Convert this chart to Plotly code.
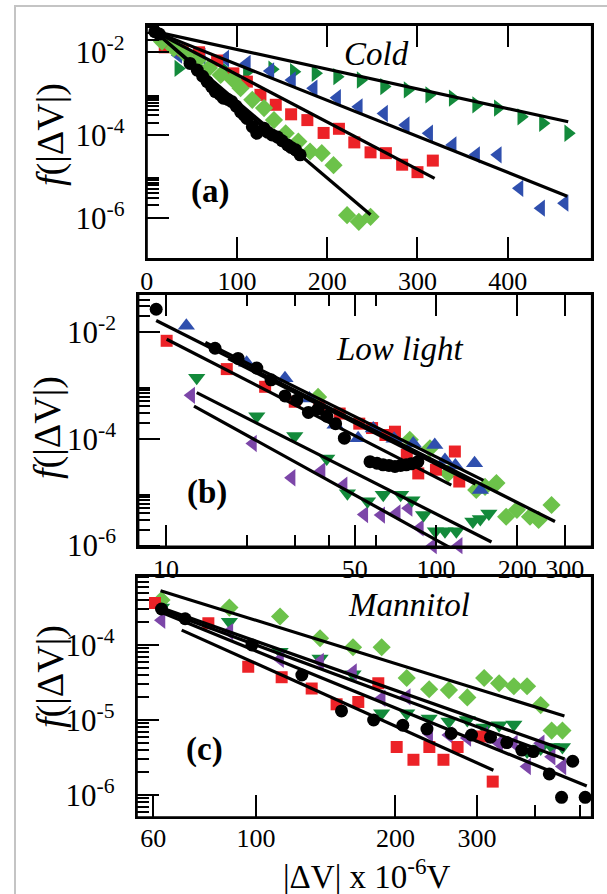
import math
import plotly.graph_objects as go

W, H = 607, 894

# ---------------- Panel (a): Cold ----------------
a_black_x = [9, 14, 48, 56, 62, 67, 72, 76, 81, 85, 90, 94, 99, 104, 108, 111, 117, 122, 130, 134, 139, 145, 150, 156, 160, 165, 170]
a_black_y = [3.16e-2, 2.75e-2, 5.37e-3, 3.72e-3, 2.63e-3, 1.95e-3, 1.45e-3, 1.12e-3, 9.55e-4, 7.76e-4, 7.24e-4, 6.46e-4, 5.01e-4, 3.63e-4, 3.02e-4, 2.51e-4, 1.58e-4, 1.10e-4, 1.45e-4, 1.17e-4, 1.0e-4, 8.91e-5, 7.24e-5, 5.75e-5, 5.01e-5, 4.37e-5, 3.31e-5]
a_red_x = [20, 40, 58, 78, 96, 111, 126, 143, 160, 178, 196, 213, 230, 248, 265, 283, 300, 317]
a_red_y = [1.32e-2, 1.12e-2, 1.0e-2, 6.31e-3, 3.09e-3, 1.95e-3, 9.33e-4, 5.37e-4, 3.16e-4, 2.29e-4, 1.12e-4, 1.41e-4, 6.61e-5, 3.80e-5, 3.63e-5, 1.91e-5, 1.26e-5, 2.40e-5]
a_blue_x = [35, 61, 87, 111, 137, 161, 185, 211, 235, 263, 287, 313, 339, 365, 389, 413, 437, 463]
a_blue_y = [8.51e-3, 7.94e-3, 7.08e-3, 5.37e-3, 3.55e-3, 2.14e-3, 1.35e-3, 7.94e-4, 4.79e-4, 3.31e-4, 1.74e-4, 1.10e-4, 5.75e-5, 3.31e-5, 3.31e-5, 5.13e-6, 1.70e-6, 2.24e-6]
a_dgreen_x = [35, 60, 86, 111, 139, 163, 187, 211, 237, 263, 289, 313, 339, 365, 389, 415, 439, 467]
a_dgreen_y = [4.07e-3, 3.89e-3, 3.80e-3, 3.39e-3, 3.89e-3, 3.39e-3, 3.09e-3, 2.57e-3, 2.14e-3, 1.48e-3, 1.23e-3, 9.33e-4, 7.76e-4, 5.37e-4, 4.47e-4, 2.75e-4, 1.91e-4, 1.10e-4]
a_lgreen_x = [17, 30, 43, 56, 69, 82, 95, 104, 117, 130, 141, 154, 168, 181, 194, 207, 222, 235, 248]
a_lgreen_y = [1.82e-2, 1.26e-2, 8.91e-3, 6.31e-3, 4.17e-3, 2.82e-3, 2.24e-3, 1.35e-3, 7.08e-4, 4.47e-4, 2.29e-4, 1.10e-4, 6.92e-5, 3.98e-5, 3.63e-5, 1.86e-5, 1.15e-6, 7.94e-7, 1.05e-6]
# fit line endpoints: ([x start, x end], [y start, y end])
a_fit_black = ([9.2, 170], [3.16e-2, 2.51e-5])
a_fit_lgreen = ([9.2, 248], [3.16e-2, 1.17e-6])
a_fit_red = ([9.2, 319], [3.16e-2, 8.91e-6])
a_fit_blue = ([9.2, 466], [3.16e-2, 3.31e-6])
a_fit_dgreen = ([9.2, 467], [3.16e-2, 2.09e-4])
a_xticks = [0, 100, 200, 300, 400]

# ---------------- Panel (b): Low light ----------------
b_black_x = [9.2, 15.2, 18.5, 21.7, 24.5, 27.6, 30.5, 33.7, 36.5, 39.4, 42.5, 45.8, 57, 60.5, 63.7, 67, 70.5, 74, 77.6, 81, 85.7]
b_black_y = [2.63e-2, 4.90e-3, 3.16e-3, 2.09e-3, 1.26e-3, 6.31e-4, 5.25e-4, 3.09e-4, 3.55e-4, 2.63e-4, 1.91e-4, 1.02e-4, 3.72e-5, 3.47e-5, 3.24e-5, 3.16e-5, 3.02e-5, 3.16e-5, 3.24e-5, 3.39e-5, 3.72e-5]
b_red_x = [10.06, 16.8, 23.3, 30, 37, 44, 52, 58, 65, 70.5, 78, 86, 100, 117.5, 122]
b_red_y = [6.76e-3, 2.0e-3, 9.33e-4, 4.90e-4, 3.98e-4, 2.95e-4, 1.91e-4, 1.58e-4, 1.17e-4, 1.35e-4, 5.01e-5, 2.24e-5, 2.63e-5, 5.75e-5, 1.58e-5]
b_blue_x = [11.9, 19.9, 27.6, 34, 42.3, 51.5, 58.6, 70, 82.4, 99, 108, 118, 139, 146]
b_blue_y = [1.29e-2, 2.63e-3, 1.35e-3, 5.62e-4, 1.82e-4, 1.02e-4, 1.55e-4, 1.0e-4, 8.13e-5, 7.59e-5, 3.98e-5, 3.16e-5, 3.47e-5, 1.10e-5]
b_lgreen_x = [36.6, 80, 95, 111, 141, 152, 167.5, 182, 199.5, 223, 240, 268]
b_lgreen_y = [6.03e-4, 9.55e-5, 6.61e-5, 2.24e-5, 1.10e-5, 1.26e-5, 1.48e-5, 3.47e-6, 4.68e-6, 3.47e-6, 3.02e-6, 5.75e-6]
b_dgreen_x = [13, 21.7, 30, 39.4, 47, 55.8, 63.8, 74, 81.5, 90, 99.5, 108, 119, 137, 146, 157]
b_dgreen_y = [1.38e-3, 2.63e-4, 1.12e-4, 4.27e-5, 9.55e-6, 6.76e-6, 8.91e-6, 8.91e-6, 7.08e-6, 3.72e-6, 1.86e-6, 1.86e-6, 1.86e-6, 2.82e-6, 3.16e-6, 3.98e-6]
b_purple_x = [12.4, 21, 29.2, 37.7, 45.5, 54.3, 62.7, 71.6, 79.2, 87.2, 97.5, 121.4]
b_purple_y = [6.46e-4, 8.13e-5, 1.86e-5, 2.51e-5, 1.35e-5, 3.80e-6, 3.72e-6, 4.07e-6, 5.01e-6, 2.14e-6, 1.0e-6, 1.0e-6]
b_fit_1 = ([9.2, 276], [1.62e-2, 2.82e-6])
b_fit_2 = ([10.06, 114], [7.24e-3, 1.35e-5])
b_fit_3 = ([14, 150], [6.31e-3, 1.66e-5])
b_fit_4 = ([17, 140], [3.16e-3, 1.41e-5])
b_fit_5 = ([13, 160.6], [7.24e-4, 1.17e-6])
b_fit_6 = ([12.7, 114], [4.07e-4, 8.91e-7])
b_xticks = [10, 50, 100, 200, 300]
b_xminor = [20, 30, 40, 60]

# ---------------- Panel (c): Mannitol ----------------
c_x = [62.5, 87.6, 112.7, 137.5, 162, 186.8, 211.6, 236.6, 261, 286, 311, 335, 360.5, 385, 412, 435, 459]
c_lgreen_y = [3.98e-4, 3.16e-4, 2.40e-4, 1.23e-4, 9.33e-5, 9.33e-5, 3.63e-5, 2.57e-5, 2.51e-5, 2.0e-5, 3.63e-5, 3.09e-5, 2.82e-5, 2.82e-5, 1.58e-5, 7.24e-6, 7.24e-6]
c_dgreen_y = [3.16e-4, 2.04e-4, 8.13e-5, 6.61e-5, 4.07e-5, 1.23e-5, 1.23e-5, 1.05e-5, 9.55e-6, 1.0e-5, 7.94e-6, 8.51e-6, 8.71e-6, 3.80e-6, 4.17e-6, 4.37e-6, 4.37e-6]
c_purple_y = [2.14e-4, 1.51e-4, 6.46e-5, 6.03e-5, 4.37e-5, 1.95e-5, 2.04e-5, 6.61e-6, 6.31e-6, 5.75e-6, 6.31e-6, 4.90e-6, 4.90e-6, 2.40e-6, 4.90e-6, 3.24e-6, 2.40e-6]
c_black_x = [62.5, 70.3, 98, 125.6, 153, 179.5, 207.5, 234, 264, 292, 321, 348, 375, 397, 430, 457, 483, 514]
c_black_y = [3.02e-4, 2.24e-4, 1.0e-4, 3.98e-5, 1.32e-5, 1.0e-5, 8.51e-6, 7.59e-6, 6.61e-6, 6.31e-6, 5.89e-6, 5.01e-6, 3.98e-6, 3.80e-6, 1.91e-6, 9.33e-7, 2.82e-6, 9.33e-7]
c_red_x = [60.5, 78.9, 96.2, 113.6, 131.9, 149.3, 166.3, 183.7, 201.3, 218.8, 236.8, 254, 272.5, 307, 324.5]
c_red_y = [3.63e-4, 1.95e-4, 5.13e-5, 3.72e-5, 2.63e-5, 1.62e-5, 1.74e-5, 3.09e-5, 4.37e-6, 2.95e-6, 4.37e-6, 2.95e-6, 4.37e-6, 6.03e-6, 1.51e-6]
c_fit_lgreen = ([62.2, 463.6], [5.30e-4, 1.13e-5])
c_fit_dgreen = ([62.2, 464], [3.16e-4, 3.98e-6])
c_fit_purple = ([62.2, 464], [2.95e-4, 3.02e-6])
c_fit_black = ([62.2, 518], [2.75e-4, 1.32e-6])
c_fit_red = ([69.1, 325.6], [1.58e-4, 2.14e-6])
c_xticks = [60, 100, 200, 300]
c_xminor = [400, 500]

y_ticks_ab = [1e-6, 1e-4, 1e-2]
y_ticks_c = [1e-6, 1e-5, 1e-4]

# ---------------- styling ----------------
FONT = "Liberation Serif, Times New Roman, Times, serif"
RED = "#ec2227"
BLUE = "#2f4fae"
DGREEN = "#138a3b"
LGREEN = "#6cc24a"
PURPLE = "#7c46a8"
BLACK = "#000000"

fig = go.Figure()


def px_x(x):
    return x / W


def px_y(y):
    return 1 - y / H


def add_pts(xs, ys, sym, color, size, ax):
    fig.add_trace(go.Scatter(
        x=xs, y=ys, mode="markers", xaxis=ax[0], yaxis=ax[1],
        marker=dict(symbol=sym, color=color, size=size, line=dict(width=0)),
        cliponaxis=False, showlegend=False, hoverinfo="skip"))


def add_fit(fit, ax):
    fig.add_trace(go.Scatter(
        x=fit[0], y=fit[1], mode="lines", xaxis=ax[0], yaxis=ax[1],
        line=dict(color="black", width=3.2), showlegend=False, hoverinfo="skip"))


A = ("x", "y")
B = ("x2", "y2")
C = ("x3", "y3")

TRI, SQ, DIA, CIR = 15, 12, 14, 13

# panel a
add_pts(a_dgreen_x, a_dgreen_y, "triangle-right", DGREEN, TRI, A)
add_pts(a_blue_x, a_blue_y, "triangle-left", BLUE, TRI, A)
add_pts(a_red_x, a_red_y, "square", RED, SQ, A)
add_pts(a_lgreen_x, a_lgreen_y, "diamond", LGREEN, DIA, A)
add_pts(a_black_x, a_black_y, "circle", BLACK, CIR, A)
for f in (a_fit_black, a_fit_lgreen, a_fit_red, a_fit_blue, a_fit_dgreen):
    add_fit(f, A)

# panel b
add_pts(b_purple_x, b_purple_y, "triangle-left", PURPLE, TRI, B)
add_pts(b_dgreen_x, b_dgreen_y, "triangle-down", DGREEN, TRI, B)
add_pts(b_lgreen_x, b_lgreen_y, "diamond", LGREEN, DIA, B)
add_pts(b_red_x, b_red_y, "square", RED, SQ, B)
add_pts(b_blue_x, b_blue_y, "triangle-up", BLUE, TRI, B)
add_pts(b_black_x, b_black_y, "circle", BLACK, CIR, B)
for f in (b_fit_1, b_fit_2, b_fit_3, b_fit_4, b_fit_5, b_fit_6):
    add_fit(f, B)

# panel c
add_pts(c_x, c_lgreen_y, "diamond", LGREEN, DIA, C)
add_pts(c_x, c_dgreen_y, "triangle-down", DGREEN, TRI, C)
add_pts(c_x, c_purple_y, "triangle-left", PURPLE, TRI, C)
add_pts(c_red_x, c_red_y, "square", RED, SQ, C)
add_pts(c_black_x, c_black_y, "circle", BLACK, CIR, C)
for f in (c_fit_lgreen, c_fit_dgreen, c_fit_purple, c_fit_black, c_fit_red):
    add_fit(f, C)


def sup(v):
    return "10<sup>%d</sup>" % round(math.log10(v))


axis_common = dict(showline=True, linecolor="black", linewidth=2, ticks="inside",
                   ticklen=22, tickwidth=2, tickcolor="black", showgrid=False,
                   zeroline=False, fixedrange=True, automargin=False)
xfont = dict(family=FONT, size=26, color="black")
yfont = dict(family=FONT, size=31, color="black")
minor_style = dict(ticks="inside", ticklen=12, tickwidth=1.6, tickcolor="black", showgrid=False)

minor_a = [k * 10.0 ** e for e in (-2, -4, -6) for k in range(2, 10)]
minor_c = [k * 10.0 ** e for e in (-7, -6, -5, -4) for k in range(2, 10)]

# panel boxes in pixels: (left, top, right, bottom)
RIGHT = 592
box_a = (146.7, 25, RIGHT, 259)
box_b = (138.3, 294, RIGHT, 546.7)
box_c = (136.7, 576, RIGHT, 817.3)

fig.update_layout(
    width=W, height=H, margin=dict(l=0, r=0, t=0, b=0, autoexpand=False),
    paper_bgcolor="white", plot_bgcolor="white",
    xaxis=dict(domain=[px_x(box_a[0]), px_x(box_a[2])], range=[0, (RIGHT - 146.7) / 0.9026], anchor="y",
               tickvals=a_xticks, mirror="ticks", tickfont=xfont,
               ticklabelstandoff=-2, **axis_common),
    yaxis=dict(domain=[px_y(box_a[3]), px_y(box_a[1])], type="log", range=[-7.0, -1.34], anchor="x",
               tickvals=y_ticks_ab, ticktext=[sup(v) for v in y_ticks_ab], mirror=True,
               tickfont=yfont, ticklabelstandoff=14,
               minor=dict(tickvals=minor_a, **minor_style), **axis_common),
    xaxis2=dict(domain=[px_x(box_b[0]), px_x(box_b[2])], type="log",
                range=[0.8976, 0.8976 + (RIGHT - 138.3) / 270.0], anchor="y2",
                tickvals=b_xticks, ticktext=[str(v) for v in b_xticks], mirror="ticks",
                tickfont=xfont, ticklabelstandoff=-2,
                minor=dict(tickvals=b_xminor, **minor_style), **axis_common),
    yaxis2=dict(domain=[px_y(box_b[3]), px_y(box_b[1])], type="log", range=[-6.02, -1.295], anchor="x2",
                tickvals=y_ticks_ab, ticktext=[sup(v) for v in y_ticks_ab], mirror=True,
                tickfont=yfont, ticklabelstandoff=14,
                minor=dict(tickvals=minor_a, **minor_style), **axis_common),
    xaxis3=dict(domain=[px_x(box_c[0]), px_x(box_c[2])], type="log",
                range=[1.7423, 1.7423 + (RIGHT - 136.7) / 463.0], anchor="y3",
                tickvals=c_xticks, ticktext=[str(v) for v in c_xticks], mirror=True,
                tickfont=xfont, ticklabelstandoff=-4,
                minor=dict(tickvals=c_xminor, **minor_style), **axis_common),
    yaxis3=dict(domain=[px_y(box_c[3]), px_y(box_c[1])], type="log", range=[-6.297, -3.08], anchor="x3",
                tickvals=y_ticks_c, ticktext=[sup(v) for v in y_ticks_c], mirror=True,
                tickfont=yfont, ticklabelstandoff=14,
                minor=dict(tickvals=minor_c, **minor_style), **axis_common),
)

ann = []


def text(x, y, s, size, angle=0):
    ann.append(dict(x=px_x(x), y=px_y(y), xref="paper", yref="paper", text=s,
                    showarrow=False, xanchor="center", yanchor="middle", textangle=angle,
                    font=dict(family=FONT, size=size, color="black")))


text(376, 54, "<i>Cold</i>", 33)
text(400, 349, "<i>Low light</i>", 33)
text(409, 605, "<i>Mannitol</i>", 33)
text(210, 191, "<b>(a)</b>", 33)
text(207, 492, "<b>(b)</b>", 33)
text(204, 749, "<b>(c)</b>", 33)
ytitle = "<i>f</i>(|ΔV|)"
text(50, 134, ytitle, 38, -90)
text(47, 428, ytitle, 38, -90)
text(50, 676, ytitle, 38, -90)
text(367, 874, "|ΔV| x 10<sup>-6</sup>V", 33)

fig.update_layout(annotations=ann)
fig.add_shape(type="rect", xref="paper", yref="paper", x0=px_x(15), x1=1.05,
              y0=-0.05, y1=px_y(6), line=dict(color="#c4c4c4", width=2), layer="below")
# panel frames (paper coordinates so they are never clipped)
for bx in (box_a, box_b, box_c):
    fig.add_shape(type="rect", xref="paper", yref="paper",
                  x0=px_x(bx[0]), x1=px_x(bx[2]), y0=px_y(bx[3]), y1=px_y(bx[1]),
                  line=dict(color="black", width=2.2), layer="above")

page_css = ("var s=document.createElement('style');"
            "s.textContent='html,body{margin:0;padding:0;overflow:hidden;}"
            "::-webkit-scrollbar{display:none;}';"
            "document.head.appendChild(s);")
fig.write_html("out.html", config={"displayModeBar": False}, post_script=page_css)
